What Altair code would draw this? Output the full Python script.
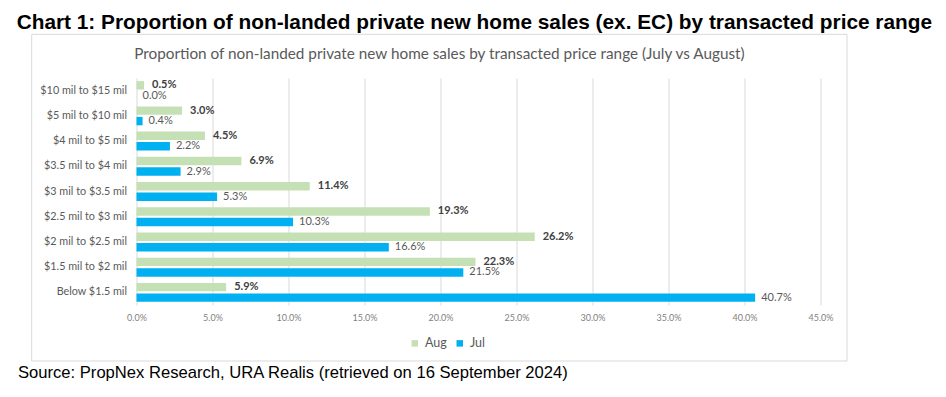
import altair as alt
import pandas as pd

categories = ["$10 mil to $15 mil", "$5 mil to $10 mil", "$4 mil to $5 mil",
              "$3.5 mil to $4 mil", "$3 mil to $3.5 mil", "$2.5 mil to $3 mil",
              "$2 mil to $2.5 mil", "$1.5 mil to $2 mil", "Below $1.5 mil"]
aug = [0.5, 3.0, 4.5, 6.9, 11.4, 19.3, 26.2, 22.3, 5.9]
jul = [0.0, 0.4, 2.2, 2.9, 5.3, 10.3, 16.6, 21.5, 40.7]
series = ["Aug", "Jul"]
colors = ["#C5E0B4", "#00B0F0"]
x_ticks = [0, 5, 10, 15, 20, 25, 30, 35, 40, 45]

main_title = "Chart 1: Proportion of non-landed private new home sales (ex. EC) by transacted price range"
inner_title = "Proportion of non-landed private new home sales by transacted price range (July vs August)"
source = "Source: PropNex Research, URA Realis (retrieved on 16 September 2024)"

rows = []
for c, a, j in zip(categories, aug, jul):
    rows.append({"cat": c, "series": "Aug", "v": a})
    rows.append({"cat": c, "series": "Jul", "v": j})
df = pd.DataFrame(rows)

base = alt.Chart(df).transform_calculate(
    lbl="format(datum.v, '.1f') + '%'"
)

y_enc = alt.Y("cat:N", sort=categories, title=None,
              scale=alt.Scale(paddingInner=0.25, paddingOuter=0.125),
              axis=alt.Axis(ticks=False, domain=False, labelPadding=10,
                            labelFont="Lato", labelFontSize=10.8,
                            labelColor="#595959", grid=False))
yoff = alt.YOffset("series:N", sort=series,
                   scale=alt.Scale(paddingInner=0.2, paddingOuter=0))
x_enc = alt.X("v:Q", title=None,
              scale=alt.Scale(domain=[0, 45], nice=False),
              axis=alt.Axis(values=x_ticks, ticks=False, domain=False,
                            labelFlush=False,
                            labelExpr="format(datum.value, '.1f') + '%'",
                            labelFont="Lato", labelFontSize=9,
                            labelColor="#7F7F7F", labelPadding=8,
                            gridColor="#D9D9D9", gridWidth=1))

bars = base.mark_bar().encode(
    y=y_enc, yOffset=yoff, x=x_enc,
    color=alt.Color("series:N", sort=series,
                    scale=alt.Scale(domain=series, range=colors),
                    legend=alt.Legend(title=None, orient="none",
                                      legendX=272, legendY=259,
                                      direction="horizontal",
                                      symbolType="square", symbolSize=42,
                                      symbolStrokeWidth=0,
                                      labelFont="Lato", labelFontSize=12.5,
                                      labelColor="#595959",
                                      columnPadding=6, labelOffset=4))
)

aug_lbl = base.transform_filter("datum.series == 'Aug'").mark_text(
    align="left", baseline="middle", dx=8, font="Lato", fontSize=11,
    fontWeight="bold", color="#404040"
).encode(y=alt.Y("cat:N", sort=categories), yOffset=yoff,
         x="v:Q", text="lbl:N")

jul_lbl = base.transform_filter("datum.series == 'Jul'").mark_text(
    align="left", baseline="middle", dx=6, font="Lato", fontSize=11,
    color="#595959"
).encode(y=alt.Y("cat:N", sort=categories), yOffset=yoff,
         x="v:Q", text="lbl:N")

border = alt.Chart(pd.DataFrame({"k": [0]})).mark_rect(
    fill="transparent", stroke="#D9D9D9", strokeWidth=1
).encode(x=alt.value(-104.8), x2=alt.value(710.5),
         y=alt.value(-43.7), y2=alt.value(283))

t_main = alt.Chart(pd.DataFrame({"t": [main_title]})).mark_text(
    align="left", baseline="middle", font="Liberation Sans", fontSize=20.8,
    fontWeight="bold", color="#000000"
).encode(text="t:N", x=alt.value(-119.8), y=alt.value(-54.7))

t_inner = alt.Chart(pd.DataFrame({"t": [inner_title]})).mark_text(
    align="center", baseline="middle", font="Lato", fontSize=15.3,
    color="#595959"
).encode(text="t:N", x=alt.value(302.9), y=alt.value(-23.7))

t_src = alt.Chart(pd.DataFrame({"t": [source]})).mark_text(
    align="left", baseline="middle", font="Liberation Sans", fontSize=16.6,
    color="#000000"
).encode(text="t:N", x=alt.value(-118.5), y=alt.value(295))

chart = alt.layer(border, bars, aug_lbl, jul_lbl, t_main, t_inner, t_src).properties(
    width=684, height=227,
    autosize=alt.AutoSizeParams(type="none"),
    padding={"left": 128.5, "top": 70, "right": 117.5, "bottom": 84},
    background="white"
).configure_view(stroke=None)

chart.save("out.html", embed_options={"renderer": "svg", "actions": False})
